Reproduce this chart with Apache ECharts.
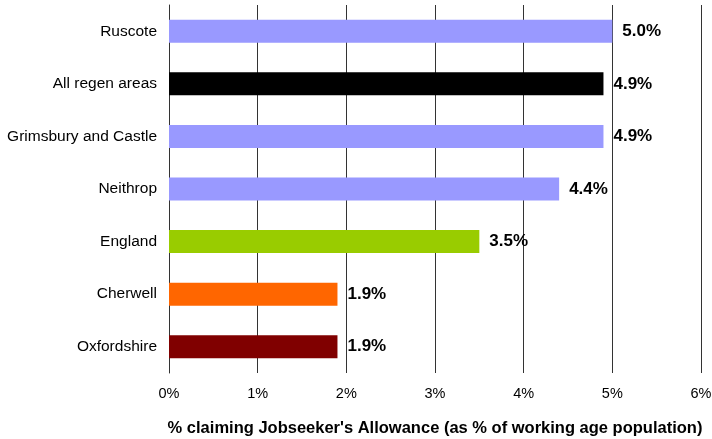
<!DOCTYPE html>
<html>
<head>
<meta charset="utf-8">
<script src="https://cdn.jsdelivr.net/npm/echarts@6/dist/echarts.min.js"></script>
<style>
  html, body { margin: 0; padding: 0; background: #fff; }
  #main { width: 712px; height: 439px; }
</style>
</head>
<body>
<div id="main"></div>
<script>
var areas = ['Ruscote', 'All regen areas', 'Grimsbury and Castle', 'Neithrop', 'England', 'Cherwell', 'Oxfordshire'];
var jsaRates = [5.0, 4.9, 4.9, 4.4, 3.5, 1.9, 1.9];
var barColors = ['#9999ff', '#000000', '#9999ff', '#9999ff', '#99cc00', '#ff6600', '#800000'];
var xTicks = [0, 1, 2, 3, 4, 5, 6];

var myChart = echarts.init(document.getElementById('main'));

myChart.setOption({
    animation: false,
    textStyle: { fontFamily: 'Liberation Sans, Arial, sans-serif' },
    grid: { left: 169, right: 11, top: 5, bottom: 66, outerBoundsMode: 'none' },
    xAxis: {
        type: 'value',
        min: xTicks[0],
        max: xTicks[xTicks.length - 1],
        interval: 1,
        name: "% claiming Jobseeker's Allowance (as % of working age population)",
        nameLocation: 'middle',
        nameGap: 47,
        nameTextStyle: { fontSize: 16.5, fontWeight: 'bold', color: '#000' },
        axisLine: { show: false },
        axisTick: { show: true, length: 0, lineStyle: { color: '#333' } },
        axisLabel: { fontSize: 14.5, color: '#000', margin: 13, formatter: '{value}%' },
        splitLine: { show: true, lineStyle: { color: '#333', width: 1 } }
    },
    yAxis: {
        type: 'category',
        data: areas,
        inverse: true,
        axisLine: { show: true, lineStyle: { color: '#333' } },
        axisTick: { show: false },
        axisLabel: { fontSize: 15.5, color: '#000', margin: 12 }
    },
    series: [{
        type: 'bar',
        barWidth: 23,
        data: jsaRates.map(function (v, i) {
            return { value: v, itemStyle: { color: barColors[i] } };
        }),
        label: {
            show: true,
            position: 'right',
            distance: 10,
            fontSize: 17,
            fontWeight: 'bold',
            color: '#000',
            formatter: function (p) { return p.value.toFixed(1) + '%'; }
        }
    }]
});
</script>
</body>
</html>
